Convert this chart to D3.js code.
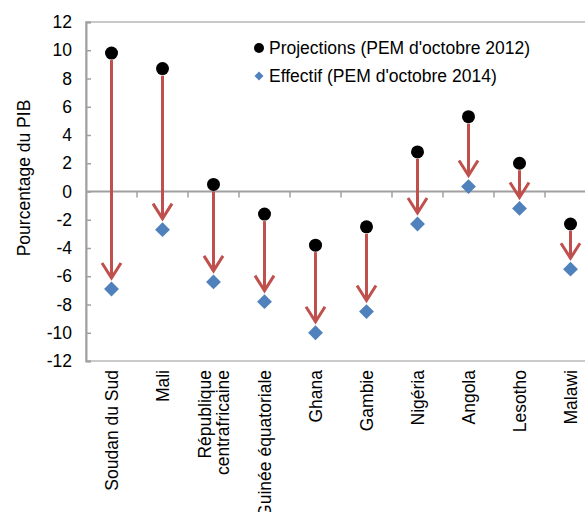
<!DOCTYPE html>
<html>
<head>
<meta charset="utf-8">
<script src="https://cdn.jsdelivr.net/npm/d3@7"></script>
<style>
  body { margin: 0; background: #fff; }
  text { font-family: "Liberation Sans", Arial, sans-serif; }
</style>
</head>
<body>
<script>
// data
var pays = ["Soudan du Sud", "Mali", "République\ncentrafricaine", "Guinée équatoriale", "Ghana",
            "Gambie", "Nigéria", "Angola", "Lesotho", "Malawi"];
var projections = [9.8, 8.7, 0.5, -1.6, -3.8, -2.5, 2.8, 5.3, 2.0, -2.3];
var effectif = [-6.9, -2.7, -6.4, -7.8, -10.0, -8.5, -2.3, 0.35, -1.2, -5.5];
var yTicks = [12, 10, 8, 6, 4, 2, 0, -2, -4, -6, -8, -10, -12];
var legende = ["Projections (PEM d'octobre 2012)", "Effectif (PEM d'octobre 2014)"];

var width = 585, height = 512;
var mLeft = 86, mTop = 22, mBottom = 361, mRight = 596;
var fs = 17.5;

var svg = d3.select("body").append("svg")
    .attr("width", width)
    .attr("height", height);

var x = d3.scaleBand().domain(d3.range(pays.length)).range([mLeft, mRight]);
var y = d3.scaleLinear().domain([-12, 12]).range([mBottom, mTop]);

var grey = "#a0a0a0";

// frame
svg.append("rect")
    .attr("x", mLeft).attr("y", mTop)
    .attr("width", mRight - mLeft).attr("height", mBottom - mTop)
    .attr("fill", "none").attr("stroke", "#b8b8b8").attr("stroke-width", 1.5);

// y axis
var yAxis = d3.axisLeft(y).tickValues(yTicks).tickSize(-5).tickPadding(14)
    .tickFormat(function(d) { return d; });
var ga = svg.append("g").attr("transform", "translate(" + mLeft + ",0)").call(yAxis);
ga.select(".domain").attr("stroke", grey).attr("stroke-width", 2);
ga.selectAll(".tick line").attr("stroke", grey).attr("stroke-width", 1.5);
ga.selectAll(".tick text").attr("font-size", fs).attr("fill", "#000")
    .attr("font-family", "Liberation Sans, Arial, sans-serif");

// zero line with category ticks
svg.append("line")
    .attr("x1", mLeft).attr("x2", mRight)
    .attr("y1", y(0)).attr("y2", y(0))
    .attr("stroke", grey).attr("stroke-width", 2);
svg.selectAll(".xtick")
    .data(d3.range(1, pays.length))
    .enter().append("line")
    .attr("x1", function(i) { return x(i); })
    .attr("x2", function(i) { return x(i); })
    .attr("y1", y(0)).attr("y2", y(0) + 6)
    .attr("stroke", grey).attr("stroke-width", 1.5);

// y label
svg.append("text")
    .attr("transform", "translate(30,178) rotate(-90)")
    .attr("text-anchor", "middle")
    .attr("font-size", fs)
    .text("Pourcentage du PIB");

// x labels
var cx = function(i) { return x(i) + x.bandwidth() / 2; };
pays.forEach(function(p, i) {
    var lines = p.split("\n");
    var t = svg.append("text")
        .attr("transform", "translate(" + cx(i) + ",370) rotate(-90)")
        .attr("text-anchor", "end")
        .attr("font-size", fs);
    lines.forEach(function(l, k) {
        t.append("tspan")
            .attr("x", 0)
            .attr("y", 6 + (k - (lines.length - 1) / 2) * 18)
            .text(l);
    });
});

// arrows
var red = "#c0504d";
var g = svg.append("g");
pays.forEach(function(p, i) {
    var x0 = cx(i);
    var y0 = y(projections[i]) + 7;
    var y1 = y(effectif[i]) - 11;
    g.append("line")
        .attr("x1", x0).attr("x2", x0)
        .attr("y1", y0).attr("y2", y1)
        .attr("stroke", red).attr("stroke-width", 3);
    g.append("path")
        .attr("d", "M" + (x0 - 9.5) + "," + (y1 - 15) + "L" + x0 + "," + y1 + "L" + (x0 + 9.5) + "," + (y1 - 15))
        .attr("fill", "none").attr("stroke", red).attr("stroke-width", 3);
});

// markers
svg.selectAll(".proj")
    .data(projections)
    .enter().append("circle")
    .attr("cx", function(d, i) { return cx(i); })
    .attr("cy", function(d) { return y(d); })
    .attr("r", 6.5)
    .attr("fill", "#000");

var diamond = d3.symbol().type(d3.symbolSquare).size(110);
svg.selectAll(".eff")
    .data(effectif)
    .enter().append("path")
    .attr("d", diamond)
    .attr("transform", function(d, i) { return "translate(" + cx(i) + "," + y(d) + ") rotate(45)"; })
    .attr("fill", "#4f81bd");

// legend
var lg = svg.append("g").attr("transform", "translate(259,48)");
lg.append("circle").attr("r", 5).attr("fill", "#000");
lg.append("path").attr("d", d3.symbol().type(d3.symbolSquare).size(40))
    .attr("transform", "translate(0,28) rotate(45)").attr("fill", "#4f81bd");
legende.forEach(function(l, k) {
    lg.append("text")
        .attr("x", 10).attr("y", k * 28 + 6)
        .attr("font-size", fs)
        .text(l);
});
</script>
</body>
</html>
